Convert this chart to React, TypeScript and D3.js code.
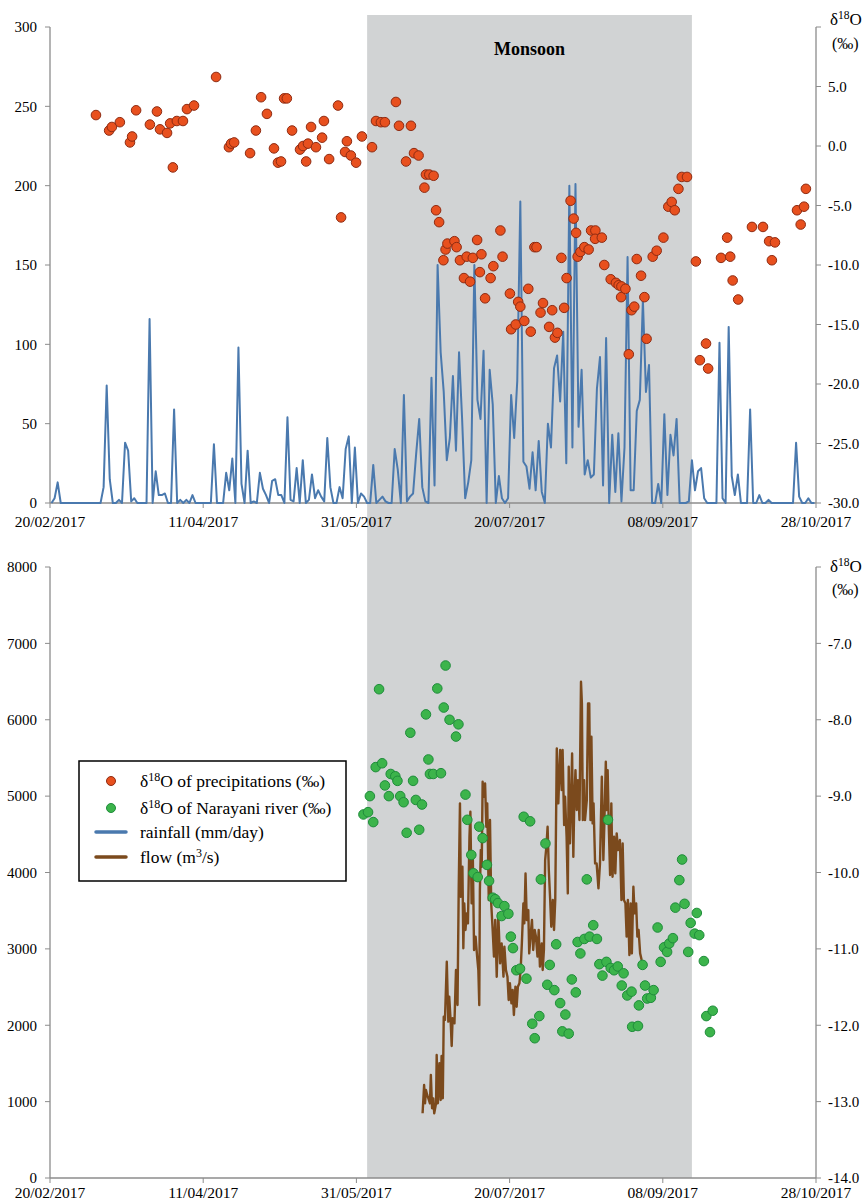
import React from "react";
import * as d3 from "d3";

// ---------- DATA ----------
// daily rainfall (mm/day) starting 20/02/2017
const rainfall = [
  0,3,13,0,0,0,0,0,0,0,
  0,0,0,0,0,0,0,10,74,15,
  0,0,2,0,38,33,1,3,0,0,
  0,0,116,0,20,5,5,6,0,0,
  59,0,2,0,2,0,5,0,0,0,
  0,0,0,37,0,0,0,19,8,28,
  0,98,12,0,33,0,1,0,19,9,
  5,0,14,15,5,5,0,54,2,1,
  22,0,27,0,2,18,3,8,4,1,
  41,10,0,0,10,3,34,42,0,35,
  0,6,4,0,0,24,0,2,4,1,
  0,0,34,21,0,68,1,4,6,31,
  53,10,1,0,79,11,150,95,70,27,
  41,80,33,95,53,3,13,27,150,65,
  53,96,0,84,62,0,17,3,0,3,
  68,41,77,190,26,23,9,32,8,39,
  7,0,50,35,85,93,64,108,25,200,
  35,201,48,84,18,27,16,18,72,92,
  11,104,0,43,7,44,1,35,155,8,
  8,58,65,128,70,87,0,0,12,0,
  56,5,43,30,53,0,0,0,1,27,
  8,20,22,3,0,0,0,0,101,3,
  0,111,17,5,18,0,0,0,59,0,
  0,5,0,0,2,0,0,0,0,0,
  0,0,0,38,4,0,0,3,0,0,
];

// δ18O of precipitations: [days since 20/02/2017, ‰]
const precipDelta: [number, number][] = [
  [15.0,2.6],[19.3,1.3],[20.2,1.6],[22.8,2.0],[26.1,0.3],[26.8,0.8],[28.1,3.0],[32.6,1.8],[34.9,2.9],[35.9,1.4],
  [38.2,1.1],[39.2,1.9],[40.1,-1.8],[41.4,2.1],[43.4,2.1],[44.7,3.1],[47.0,3.4],[54.2,5.8],[58.4,-0.1],[59.1,0.2],
  [60.1,0.3],[65.3,-0.6],[67.2,1.3],[68.9,4.1],[70.8,2.7],[73.1,-0.2],[74.4,-1.4],[75.4,-1.3],[76.4,4.0],[77.3,4.0],
  [79.0,1.3],[81.6,-0.3],[82.6,0.0],[83.6,-1.3],[84.2,0.2],[85.2,1.6],[86.8,-0.1],[88.8,0.7],[89.4,2.1],[91.1,-1.1],
  [94.0,3.4],[95.0,-6.0],[96.3,-0.5],[96.9,0.4],[98.2,-0.8],[99.9,-1.4],[101.8,0.8],[105.1,-0.1],[106.4,2.1],[108.0,2.0],
  [109.3,2.0],[112.9,3.7],[113.9,1.7],[116.2,-1.3],[117.8,1.7],[118.8,-0.6],[120.3,-0.8],[122.2,-3.5],[122.7,-2.4],[123.8,-2.4],
  [125.2,-2.5],[126.0,-5.4],[127.0,-6.4],[128.4,-9.6],[129.1,-8.7],[129.7,-8.2],[132.0,-8.0],[132.7,-8.5],[133.8,-9.6],[135.1,-11.1],
  [136.0,-9.3],[137.1,-11.4],[138.0,-9.4],[139.4,-7.9],[140.3,-10.6],[140.8,-9.1],[142.0,-12.8],[143.8,-11.1],[144.7,-10.1],[147.0,-7.1],
  [147.7,-9.3],[150.1,-12.4],[150.5,-15.4],[152.0,-15.0],[152.8,-13.1],[153.5,-13.5],[154.8,-14.7],[156.1,-12.0],[156.9,-15.6],[158.1,-8.5],
  [158.8,-8.5],[160.1,-14.0],[160.9,-13.2],[162.9,-15.2],[163.9,-13.8],[164.8,-16.1],[165.6,-15.7],[166.9,-9.4],[167.8,-13.6],[168.6,-11.1],
  [169.9,-4.6],[170.9,-6.1],[171.7,-7.3],[172.2,-9.3],[173.1,-8.9],[174.4,-8.5],[175.8,-8.7],[176.6,-7.1],[178.0,-7.1],[177.9,-7.8],
  [180.1,-7.7],[180.9,-10.0],[183.0,-11.2],[184.7,-11.5],[185.6,-11.7],[186.5,-11.8],[186.4,-12.7],[187.8,-12.0],[188.9,-17.5],[189.8,-13.8],
  [190.7,-13.5],[191.5,-9.5],[192.9,-10.9],[194.0,-12.7],[194.7,-16.2],[196.7,-9.3],[198.0,-8.8],[200.2,-7.7],[201.8,-5.1],[202.9,-4.7],
  [203.9,-5.4],[205.1,-3.6],[206.2,-2.6],[207.9,-2.6],[210.8,-9.7],[212.1,-18.0],[214.1,-16.6],[214.8,-18.7],[219.0,-9.4],[221.0,-7.7],
  [222.0,-9.3],[222.8,-11.3],[224.6,-12.9],[229.1,-6.8],[232.7,-6.8],[234.7,-8.0],[235.6,-9.6],[236.6,-8.1],[243.8,-5.4],[245.0,-6.6],
  [246.1,-5.1],[246.7,-3.6],
];

// δ18O of Narayani river: [days since 20/02/2017, ‰]
const riverDelta: [number, number][] = [
  [102.3,-9.24],[103.8,-9.21],[104.4,-9.00],[105.5,-9.34],[106.3,-8.62],[107.4,-7.60],[108.4,-8.57],[109.3,-8.86],[110.6,-9.00],[111.2,-8.71],
  [112.7,-8.74],[113.4,-8.80],[114.3,-9.00],[115.4,-9.08],[116.4,-9.48],[117.6,-8.17],[118.5,-8.80],[119.4,-9.05],[120.5,-9.44],[121.4,-9.11],
  [122.7,-7.93],[123.5,-8.52],[124.0,-8.71],[125.1,-8.71],[126.4,-7.59],[127.6,-8.70],[128.5,-7.84],[129.1,-7.29],[130.4,-8.00],[132.5,-8.22],
  [133.3,-8.06],[135.6,-8.98],[136.2,-9.31],[137.5,-9.77],[138.2,-10.01],[139.6,-10.06],[140.1,-9.40],[141.2,-9.55],[142.6,-9.90],[143.3,-10.11],
  [144.5,-10.33],[145.3,-10.35],[146.2,-10.40],[147.4,-10.57],[148.3,-10.44],[149.6,-10.54],[150.4,-10.84],[151.1,-10.99],[152.2,-11.28],[153.4,-11.26],
  [154.6,-9.27],[155.5,-11.39],[156.7,-9.33],[157.4,-11.98],[158.2,-12.17],[159.7,-11.88],[160.2,-10.09],[161.7,-9.62],[162.3,-11.47],[163.1,-11.21],
  [164.6,-11.54],[165.2,-10.94],[166.5,-11.71],[167.2,-12.08],[168.2,-11.86],[169.3,-12.11],[170.3,-11.40],[171.6,-11.57],[172.2,-10.91],[173.1,-11.06],
  [174.4,-10.87],[175.2,-10.09],[176.1,-10.84],[177.3,-10.69],[178.5,-10.87],[179.3,-11.20],[180.3,-11.35],[181.6,-11.17],[182.1,-9.31],[183.0,-11.25],
  [184.1,-11.28],[185.3,-11.23],[186.6,-11.48],[187.2,-11.32],[188.4,-11.61],[189.8,-11.56],[190.0,-12.02],[191.9,-12.01],[192.2,-11.74],[193.4,-11.21],
  [194.2,-11.48],[194.9,-11.65],[196.1,-11.64],[197.0,-11.54],[198.3,-10.72],[199.3,-11.17],[200.4,-10.98],[201.4,-11.04],[202.1,-10.93],[203.3,-10.86],
  [204.1,-10.46],[205.4,-10.10],[206.3,-9.83],[207.1,-10.41],[208.3,-11.04],[209.1,-10.66],[210.4,-10.80],[211.1,-10.53],[211.9,-10.82],[213.4,-11.16],
  [214.2,-11.88],[215.4,-12.09],[216.3,-11.81],
];

// flow (m3/s): [days since 20/02/2017, m3/s]
const flow: [number, number][] = [
  [121.6,847],[122.1,1218],[122.4,978],[122.7,1153],[123.1,1087],[123.5,1043],[124.0,978],[124.3,1349],[124.7,913],[125.1,1043],
  [125.4,847],[126.0,978],[126.2,1611],[126.6,978],[127.1,1502],[127.5,1022],[127.8,1598],[128.2,1043],[128.5,2112],[128.9,2069],
  [129.5,2832],[130.0,2047],[130.3,2374],[130.8,2025],[131.1,1728],[131.4,2091],[132.0,2025],[132.5,2723],[133.0,2265],[133.4,3814],
  [133.8,4905],[134.1,3683],[134.6,4076],[134.9,3007],[135.2,3596],[135.6,3247],[136.0,3465],[136.4,3334],[136.9,4468],[137.2,4796],
  [137.6,3596],[138.0,4207],[138.4,2985],[138.9,3160],[139.4,2898],[139.8,2723],[140.1,2265],[140.3,3770],[140.6,4294],[140.9,4076],
  [141.2,5188],[141.6,4992],[142.0,5166],[142.4,4599],[142.7,4905],[143.2,3639],[143.6,4687],[144.0,3596],[144.5,3225],[144.9,2898],
  [145.3,3378],[145.8,2636],[146.3,3465],[146.9,2810],[147.4,3072],[148.0,2636],[148.3,3029],[148.8,2723],[149.3,2636],[149.7,2330],
  [150.1,2549],[150.6,2287],[151.0,2461],[151.4,2134],[151.9,2505],[152.3,2243],[152.7,2505],[153.2,2549],[153.6,2723],[154.0,3072],
  [154.5,3596],[154.8,3334],[155.2,3988],[155.6,3378],[156.1,3508],[156.4,2941],[156.9,3203],[157.3,3378],[157.7,2985],[158.2,3247],
  [158.6,3160],[159.1,2898],[159.5,3247],[159.9,2767],[160.5,3072],[160.8,2723],[161.2,2985],[161.6,4163],[162.0,4337],[162.4,4599],
  [162.8,4032],[163.2,3683],[163.6,3290],[164.1,3639],[164.5,3247],[164.9,3639],[165.4,5625],[165.9,4905],[166.5,5603],[167.0,5079],
  [167.3,5603],[167.8,4621],[168.1,4992],[168.6,4469],[169.0,3727],[169.3,5385],[169.7,4381],[170.1,4992],[170.4,5559],[170.8,4207],
  [171.1,4905],[171.5,5341],[171.9,4818],[172.3,5210],[172.8,4687],[173.3,6497],[173.6,6214],[173.9,4687],[174.3,5210],[174.6,4687],
  [175.2,4948],[175.6,6214],[176.0,6214],[176.4,4687],[176.7,5777],[177.1,4643],[177.4,4905],[177.9,4119],[178.4,4119],[179.0,3792],
  [179.5,4119],[180.1,5254],[180.6,4163],[180.9,4599],[181.4,5450],[181.7,4818],[182.0,5341],[182.4,4556],[182.8,3967],[183.2,4905],
  [183.6,3945],[184.1,4469],[184.5,3989],[184.95,4512],[185.4,4294],[186.0,4425],[186.5,3640],[186.9,4381],[187.3,3640],[187.8,3596],
  [188.2,3160],[188.6,3640],[189.1,2920],[189.5,3596],[189.9,2941],[190.4,3814],[190.8,3465],[191.3,3596],[191.7,3160],[192.1,3247],
  [192.6,2941],[193.1,2854],
];

const monsoonDays: [number, number] = [103.5, 209.5];
const xTickStepDays = 50;
const rainTicks = [0, 50, 100, 150, 200, 250, 300];
const isoTopTicks = [-30, -25, -20, -15, -10, -5, 0, 5];
const flowTicks = [0, 1000, 2000, 3000, 4000, 5000, 6000, 7000, 8000];
const isoBottomTicks = [-14, -13, -12, -11, -10, -9, -8, -7];

// ---------- HELPERS ----------
const T0 = Date.UTC(2017, 1, 20);
const DAY = 864e5;
const dayToDate = (d: number) => new Date(T0 + d * DAY);

const FONT = "Liberation Serif";
const AXIS = "#8c8c8c";
const RED = "#e8501e";
const RED_S = "#8e2b12";
const GREEN = "#3cb44b";
const GREEN_S = "#1f8c3b";
const BLUE = "#4a79ae";
const BROWN = "#7b4a1d";

const x = d3.scaleUtc().domain([dayToDate(0), dayToDate(250)]).range([50, 816]);
const xTicks = d3.range(0, 251, xTickStepDays).map(dayToDate);
const fmtDate = d3.utcFormat("%d/%m/%Y");

const yRain = d3.scaleLinear().domain([0, 300]).range([503, 27]);
const yIsoTop = d3.scaleLinear().domain([-30, 10]).range([503, 27]);
const yFlow = d3.scaleLinear().domain([0, 8000]).range([1178, 567]);
const yIsoBot = d3.scaleLinear().domain([-14, -6]).range([1178, 567]);

const rainLine = d3
  .line<number>()
  .x((_, i) => x(dayToDate(i + 0.5)))
  .y((v) => yRain(v));
const flowLine = d3
  .line<[number, number]>()
  .x((d) => x(dayToDate(d[0])))
  .y((d) => yFlow(d[1]));

function Delta({ x0, y0, size }: { x0: number; y0: number; size: number }) {
  return (
    <text x={x0} y={y0} fontSize={size} fill="#000">
      δ<tspan fontSize={size * 0.68} dy={-size * 0.38}>18</tspan>
      <tspan dy={size * 0.38}>O</tspan>
    </text>
  );
}

function Panel({ yL, yR, lTicks, rTicks, rTop, axisY, topY, labelY }: any) {
  const [x0, x1] = x.range();
  return (
    <g>
      <line x1={x0} x2={x0} y1={topY} y2={axisY} stroke={AXIS} strokeWidth={1.3} />
      <line x1={x1} x2={x1} y1={topY} y2={axisY} stroke={AXIS} strokeWidth={1.3} />
      <line x1={x0} x2={x1} y1={axisY} y2={axisY} stroke={AXIS} strokeWidth={1.3} />
      {lTicks.map((t: number) => (
        <g key={"l" + t}>
          <line x1={x0 - 5} x2={x0} y1={yL(t)} y2={yL(t)} stroke={AXIS} strokeWidth={1} />
          <text x={37} y={yL(t)} dy="0.35em" textAnchor="end" fontSize={15}>
            {String(t)}
          </text>
        </g>
      ))}
      {[...rTicks, rTop].map((t: number) => (
        <line key={"rt" + t} x1={x1} x2={x1 + 5} y1={yR(t)} y2={yR(t)} stroke={AXIS} strokeWidth={1} />
      ))}
      {rTicks.map((t: number) => (
        <text key={"r" + t} x={828} y={yR(t)} dy="0.35em" fontSize={15}>
          {t.toFixed(1)}
        </text>
      ))}
      {xTicks.map((t) => (
        <g key={+t}>
          <line x1={x(t)} x2={x(t)} y1={axisY} y2={axisY + 5} stroke={AXIS} strokeWidth={1} />
          <text x={x(t)} y={labelY} dy="0.35em" textAnchor="middle" fontSize={15.5}>
            {fmtDate(t)}
          </text>
        </g>
      ))}
    </g>
  );
}

export default function App() {
  const bandX0 = x(dayToDate(monsoonDays[0]));
  const bandX1 = x(dayToDate(monsoonDays[1]));
  return (
    <svg
      width={862}
      height={1202}
      fontFamily={FONT}
      style={{ position: "absolute", left: 0, top: 0, background: "#fff", fontFamily: "'Liberation Serif', serif" }}
    >
      <rect x={bandX0} y={15} width={bandX1 - bandX0} height={1178 - 15} fill="#d1d3d4" />

      {/* TOP PANEL */}
      <Panel yL={yRain} yR={yIsoTop} lTicks={rainTicks} rTicks={isoTopTicks} rTop={10} axisY={503} topY={27} labelY={522} />
      <text x={(bandX0 + bandX1) / 2} y={49} dy="0.35em" textAnchor="middle" fontSize={18} fontWeight="bold">
        Monsoon
      </text>
      <path d={rainLine(rainfall) || ""} fill="none" stroke={BLUE} strokeWidth={2} strokeLinejoin="round" />
      {precipDelta.map((d, i) => (
        <circle key={i} cx={x(dayToDate(d[0]))} cy={yIsoTop(d[1])} r={4.8} fill={RED} stroke={RED_S} strokeWidth={1} />
      ))}
      <Delta x0={830} y0={25} size={17} />
      <text x={832} y={49} fontSize={16}>(‰)</text>

      {/* BOTTOM PANEL */}
      <Panel yL={yFlow} yR={yIsoBot} lTicks={flowTicks} rTicks={isoBottomTicks} rTop={-6} axisY={1178} topY={567} labelY={1193} />
      <path d={flowLine(flow) || ""} fill="none" stroke={BROWN} strokeWidth={2.4} strokeLinejoin="round" />
      {riverDelta.map((d, i) => (
        <circle key={i} cx={x(dayToDate(d[0]))} cy={yIsoBot(d[1])} r={4.8} fill={GREEN} stroke={GREEN_S} strokeWidth={1} />
      ))}
      <Delta x0={830} y0={572} size={17} />
      <text x={832} y={595} fontSize={16}>(‰)</text>

      {/* LEGEND */}
      <g>
        <rect x={79} y={761} width={267} height={120} fill="#fff" stroke="#000" strokeWidth={1.5} />
        <circle cx={111} cy={781} r={4.5} fill={RED} stroke={RED_S} strokeWidth={1} />
        <circle cx={111} cy={808} r={4.5} fill={GREEN} stroke={GREEN_S} strokeWidth={1} />
        <line x1={96} x2={126} y1={832} y2={832} stroke={BLUE} strokeWidth={3.5} strokeLinecap="round" />
        <line x1={96} x2={126} y1={857} y2={857} stroke={BROWN} strokeWidth={3.5} strokeLinecap="round" />
        <text x={140} y={787} fontSize={17.5}>
          δ<tspan fontSize={12} dy={-6}>18</tspan><tspan dy={6}>O of precipitations (‰)</tspan>
        </text>
        <text x={140} y={814} fontSize={17.5}>
          δ<tspan fontSize={12} dy={-6}>18</tspan><tspan dy={6}>O of Narayani river (‰)</tspan>
        </text>
        <text x={140} y={838} fontSize={17.5}>rainfall (mm/day)</text>
        <text x={140} y={863} fontSize={17.5}>
          flow (m<tspan fontSize={12} dy={-6}>3</tspan><tspan dy={6}>/s)</tspan>
        </text>
      </g>
    </svg>
  );
}
